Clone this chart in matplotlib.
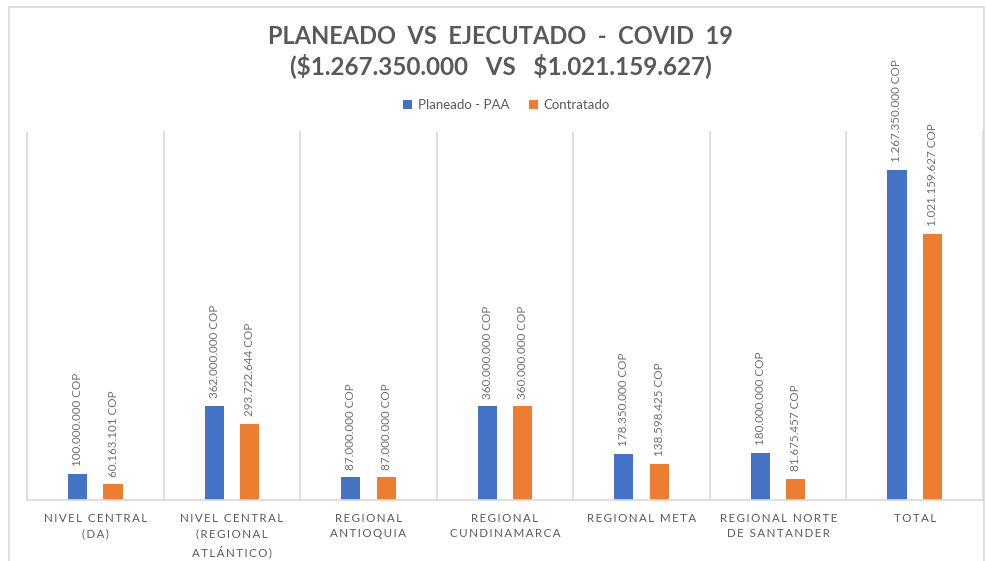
import matplotlib.pyplot as plt
from matplotlib.patches import Rectangle
import numpy as np

categorias = ["NIVEL CENTRAL\n(DA)", "NIVEL CENTRAL\n(REGIONAL\nATLÁNTICO)", "REGIONAL\nANTIOQUIA",
              "REGIONAL\nCUNDINAMARCA", "REGIONAL META", "REGIONAL NORTE\nDE SANTANDER", "TOTAL"]
planeado = [100000000, 362000000, 87000000, 360000000, 178350000, 180000000, 1267350000]
contratado = [60163101, 293722644, 87000000, 360000000, 138598425, 81675457, 1021159627]
series = ["Planeado - PAA", "Contratado"]

AZUL = '#4472C4'
NARANJA = '#ED7D31'
GRIS = '#595959'
REJILLA = '#d9d9d9'

plt.rcParams['font.family'] = ['Lato', 'DejaVu Sans']


def espaciar(texto):
    # imitate Excel's letter spacing on category labels
    return "\n".join("\u2009".join(linea) for linea in texto.split("\n"))


def cop(v):
    return f"{v:,.0f}".replace(",", ".") + " COP"


fig = plt.figure(figsize=(9.87, 5.61), dpi=100)
fig.patches.append(Rectangle((9 / 987, -0.01), 975 / 987, 1 - 7 / 561 + 0.01, transform=fig.transFigure,
                             fill=False, edgecolor=REJILLA, linewidth=1.2))

ax = fig.add_axes([27 / 987, 61 / 561, 956 / 987, 368 / 561])
x = np.arange(len(categorias))
ancho = 0.14
off = 0.13
b1 = ax.bar(x - off, planeado, ancho, color=AZUL, label=series[0])
b2 = ax.bar(x + off, contratado, ancho, color=NARANJA, label=series[1])

for barras, valores in ((b1, planeado), (b2, contratado)):
    for b, v in zip(barras, valores):
        ax.annotate(cop(v), (b.get_x() + b.get_width() / 2, v), xytext=(0, 5.5), textcoords='offset points',
                    rotation=90, ha='center', va='bottom', fontsize=8.4, color='#6f6f6f', annotation_clip=False)

for i in range(len(categorias) + 1):
    ax.axvline(i - 0.5, color=REJILLA, linewidth=1.2, clip_on=False)

ax.set_xlim(-0.5, len(categorias) - 0.5)
ax.set_ylim(0, 1413e6)
for s in ('top', 'left', 'right'):
    ax.spines[s].set_visible(False)
ax.spines['bottom'].set_color(REJILLA)
ax.spines['bottom'].set_linewidth(1.2)
ax.set_yticks([])
ax.set_xticks(x)
ax.set_xticklabels([espaciar(c) for c in categorias], fontsize=8.3, color=GRIS, linespacing=1.55)
ax.tick_params(axis='x', length=0, pad=9)

fig.text(0.507, 1 - 36 / 561, "PLANEADO  VS  EJECUTADO  -  COVID  19", ha='center', va='center',
         fontsize=17, fontweight='bold', color=GRIS)
fig.text(0.507, 1 - 66 / 561, r"(\$1.267.350.000   VS   \$1.021.159.627)", ha='center', va='center',
         fontsize=17.5, fontweight='bold', color=GRIS)

fig.legend(handles=[b1, b2], labels=series, loc='center', bbox_to_anchor=(0.513, 1 - 105 / 561), ncol=2,
           frameon=False, fontsize=9.5, handlelength=0.7, handleheight=0.7, handletextpad=0.4,
           columnspacing=1.5, labelcolor=GRIS)

fig.savefig('out.png', dpi=100)
